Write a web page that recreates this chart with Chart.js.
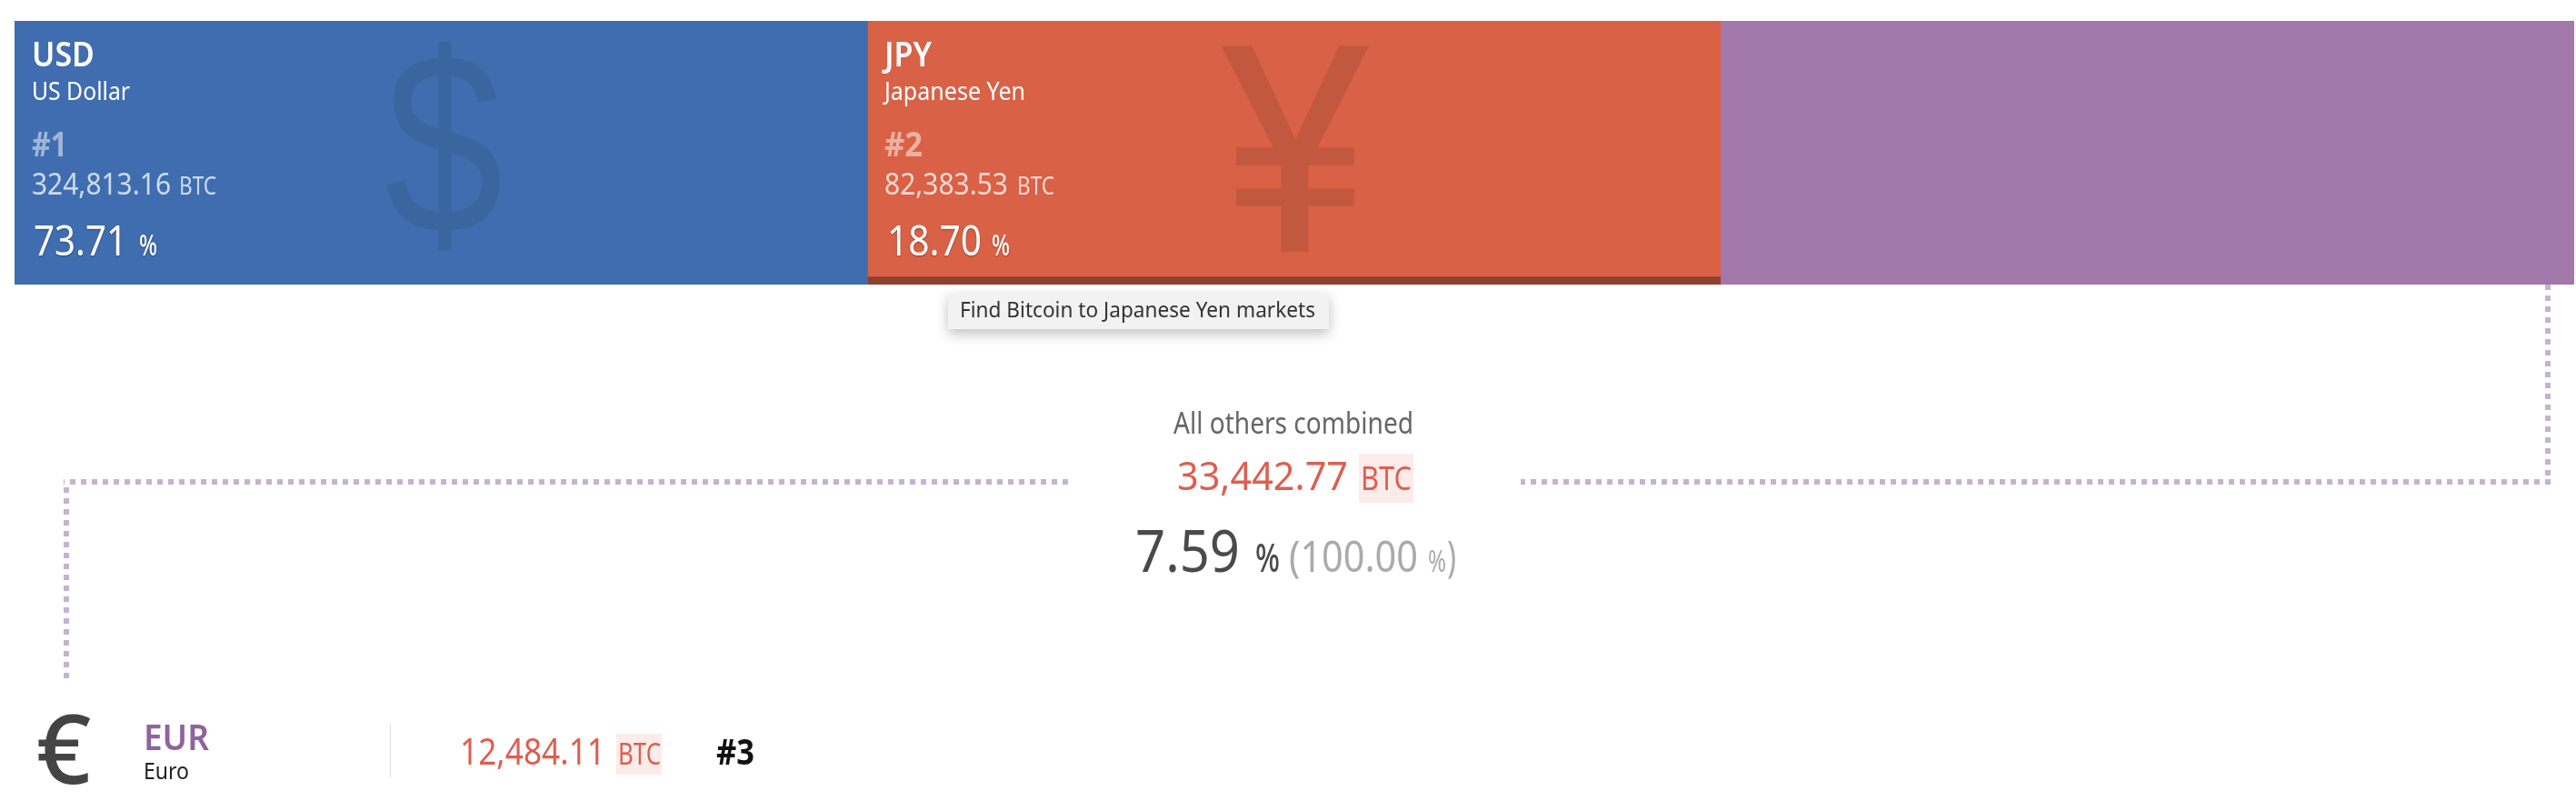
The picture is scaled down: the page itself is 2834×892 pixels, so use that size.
<!DOCTYPE html>
<html>
<head>
<meta charset="utf-8">
<style>
  html, body { margin: 0; padding: 0; background: #ffffff; overflow: hidden; }
  canvas { display: block; }
</style>
<script src="https://cdn.jsdelivr.net/npm/chart.js@4"></script>
</head>
<body>
<canvas id="myChart" width="2834" height="892"></canvas>
<script>
// Tiles across the top, all the same size
const tileCodes = ['USD', 'JPY', 'Others'];
const tileNames = ['US Dollar', 'Japanese Yen', 'All others combined'];
const tileRanks = ['#1', '#2'];
const tileSymbols = ['$', '¥'];
const tileBtc = ['324,813.16', '82,383.53', '33,442.77'];
const tilePercents = ['73.71', '18.70', '7.59'];
const tileHeights = [1, 1, 1];
const tileColors = ['#3f6daf', '#d96146', '#a178a9'];
const cumulativePercent = '100.00';

// Row below the "others" block
const restCode = 'EUR';
const restName = 'Euro';
const restSymbol = '€';
const restBtc = '12,484.11';
const restRank = '#3';

const tooltipText = 'Find Bitcoin to Japanese Yen markets';

const FONT = '"Noto Sans", sans-serif';

function text(ctx, str, x, y, size, weight, color, maxWidth) {
  ctx.font = weight + ' ' + size + 'px ' + FONT;
  ctx.fillStyle = color;
  ctx.fillText(str, x, y, maxWidth);
}

function dotted(ctx, x1, y1, x2, y2) {
  ctx.save();
  ctx.strokeStyle = '#c6b2ce';
  ctx.lineWidth = 6;
  ctx.setLineDash([6, 6]);
  ctx.beginPath();
  ctx.moveTo(x1, y1);
  ctx.lineTo(x2, y2);
  ctx.stroke();
  ctx.restore();
}

const tileText = {
  id: 'tileText',
  afterDatasetsDraw(chart) {
    const ctx = chart.ctx;
    const bars = chart.getDatasetMeta(0).data;
    ctx.save();
    ctx.textBaseline = 'alphabetic';

    // big faded symbols
    ctx.textAlign = 'center';
    ctx.font = '400 284px "Liberation Sans", sans-serif';
    ctx.fillStyle = '#3a659f';
    ctx.fillText(tileSymbols[0], bars[0].x + 3, 256, 130);
    ctx.font = '400 319px Roboto, sans-serif';
    ctx.fillStyle = '#c2593f';
    ctx.fillText(tileSymbols[1], bars[1].x + 1, 277);
    ctx.textAlign = 'left';

    // text in the two big tiles
    const left = [35, 973];
    const widths = [
      { code: 69, name: 108, rank: 39, btc: 153, unitX: 197, pct: 103, pctX: 37, signX: 153 },
      { code: 52, name: 155, rank: 42, btc: 136, unitX: 1119, pct: 104, pctX: 976, signX: 1091 }
    ];
    for (let i = 0; i < 2; i++) {
      const w = widths[i];
      text(ctx, tileCodes[i], left[i], 73, 38, 600, '#ffffff', w.code);
      text(ctx, tileNames[i], left[i], 110, 27, 400, '#ffffff', w.name);
      text(ctx, tileRanks[i], left[i], 172, 38, 700, 'rgba(255,255,255,0.5)', w.rank);
      text(ctx, tileBtc[i], left[i], 214, 32, 400, 'rgba(255,255,255,0.75)', w.btc);
      text(ctx, 'BTC', w.unitX, 214, 27, 400, 'rgba(255,255,255,0.75)', 41);
      ctx.shadowColor = 'rgba(0,0,0,0.3)';
      ctx.shadowBlur = 2;
      ctx.shadowOffsetY = 1;
      text(ctx, tilePercents[i], w.pctX, 281, 45, 400, '#ffffff', w.pct);
      text(ctx, '%', w.signX, 281, 33, 500, '#ffffff', 20);
      ctx.shadowColor = 'transparent';
      ctx.shadowBlur = 0;
      ctx.shadowOffsetY = 0;
    }

    // tooltip under the JPY tile
    ctx.save();
    ctx.shadowColor = 'rgba(0,0,0,0.25)';
    ctx.shadowBlur = 14;
    ctx.shadowOffsetY = 5;
    ctx.fillStyle = '#f2f2f2';
    ctx.fillRect(1043, 323, 419, 39);
    ctx.restore();
    text(ctx, tooltipText, 1056, 349, 23, 400, '#333333', 391);

    // connector from the purple tile
    dotted(ctx, 2803, 313, 2803, 530);
    dotted(ctx, 2806, 530, 1673, 530);
    dotted(ctx, 1175, 530, 70, 530);
    dotted(ctx, 73, 536, 73, 750);

    // others block
    text(ctx, tileNames[2], 1291, 477, 33, 400, '#666666', 264);
    ctx.fillStyle = '#fbecea';
    ctx.fillRect(1495, 499, 60, 54);
    text(ctx, tileBtc[2], 1295, 539, 44, 400, '#dc5f50', 188);
    text(ctx, 'BTC', 1497, 539, 36, 400, '#dc5f50', 56);
    text(ctx, tilePercents[2], 1249, 629, 64, 400, '#4a4a4a', 115);
    text(ctx, '%', 1381, 629, 44, 500, '#4a4a4a', 27);
    text(ctx, '(' + cumulativePercent, 1418, 629, 48, 400, '#aaaaaa', 142);
    text(ctx, '%', 1571, 629, 32, 400, '#aaaaaa', 20);
    text(ctx, ')', 1592, 629, 48, 400, '#aaaaaa', 10);

    // first currency of the rest
    ctx.textAlign = 'center';
    ctx.font = '500 106px "Noto Sans", sans-serif';
    ctx.fillStyle = '#444444';
    ctx.fillText(restSymbol, 70, 862);
    ctx.textAlign = 'left';
    text(ctx, restCode, 158, 825, 39, 600, '#8f639f', 72);
    text(ctx, restName, 158, 857, 26, 400, '#222222', 50);
    ctx.fillStyle = '#dddddd';
    ctx.fillRect(429, 797, 1, 58);
    ctx.fillStyle = '#fbecea';
    ctx.fillRect(678, 807, 50, 45);
    text(ctx, restBtc, 506, 841, 40, 400, '#dc5f50', 160);
    text(ctx, 'BTC', 680, 841, 32, 400, '#dc5f50', 47);
    text(ctx, restRank, 788, 841, 39, 700, '#111111', 42);

    ctx.restore();
  }
};

const chart = new Chart(document.getElementById('myChart'), {
  type: 'bar',
  plugins: [tileText],
  data: {
    labels: tileCodes,
    datasets: [{
      data: tileHeights,
      backgroundColor: tileColors,
      // the hovered JPY tile gets a darker bottom edge
      borderColor: ['#3f6daf', '#8f3f2e', '#a178a9'],
      borderWidth: [0, { bottom: 9 }, 0],
      borderSkipped: false,
      categoryPercentage: 1,
      barPercentage: 1
    }]
  },
  options: {
    responsive: false,
    animation: false,
    devicePixelRatio: 1,
    layout: { padding: { left: 16, right: 2, top: 23, bottom: 579 } },
    plugins: { legend: { display: false }, tooltip: { enabled: false } },
    scales: {
      x: { display: false },
      y: { display: false, min: 0, max: 1 }
    }
  }
});
</script>
</body>
</html>
